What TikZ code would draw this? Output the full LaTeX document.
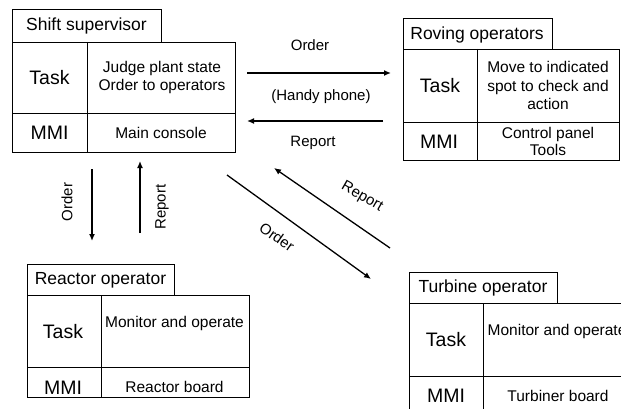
\documentclass[tikz,border=0pt]{standalone}
\usepackage{fontspec}
\setmainfont{Liberation Sans}
\usetikzlibrary{arrows.meta}
\begin{document}
\begin{tikzpicture}[x=1pt,y=-1pt,
  frame/.style={draw=black,line width=0.9pt},
  txt/.style={inner sep=0pt,align=center,font=\fontsize{15.5}{18.5}\selectfont},
  head/.style={inner sep=0pt,font=\fontsize{17.5}{20}\selectfont},
  big/.style={inner sep=0pt,font=\fontsize{19.5}{22}\selectfont},
  lbl/.style={inner sep=0pt,font=\fontsize{15}{18}\selectfont},
  flow/.style={line width=1.3pt,-{Latex[length=7pt,width=6pt]}}]
\useasboundingbox (0,0) rectangle (621,409);
\clip (0,0) rectangle (621,409);
\fill[white] (0,0) rectangle (621,409);

% Shift supervisor
\draw[frame] (12,9) rectangle (161,42);
\draw[frame] (12,42) rectangle (235,152);
\draw[frame] (87,42) -- (87,152);
\draw[frame] (12,113) -- (235,113);
\node[head] (ssh) at (86.5,26) {Shift supervisor};
\node[big] (sst) at (49.5,78) {Task};
\node[txt] (sstc) at (162,77.5) {Judge plant state\\Order to operators};
\node[big] (ssm) at (49.5,133) {MMI};
\node[txt] (ssmc) at (161,133) {Main console};

% Roving operators
\draw[frame] (403,18) rectangle (552,49);
\draw[frame] (403,49) rectangle (619,160);
\draw[frame] (477,49) -- (477,160);
\draw[frame] (403,122) -- (619,122);
\node[head] (rvh) at (477,34.5) {Roving operators};
\node[big] (rvt) at (440,86) {Task};
\node[txt] (rvtc) at (548,85.5) {Move to indicated\\spot to check and\\action};
\node[big] (rvm) at (439,142) {MMI};
\node[txt,font=\fontsize{15.5}{17}\selectfont] (rvmc) at (548,141.5) {Control panel\\Tools};

% Reactor operator
\draw[frame] (27,264) rectangle (174,295);
\draw[frame] (27,295) rectangle (249,397);
\draw[frame] (101,295) -- (101,397);
\draw[frame] (27,367) -- (249,367);
\node[head] (rch) at (100.5,280.5) {Reactor operator};
\node[big] (rct) at (63,332) {Task};
\node[txt] (rctc) at (174.5,323) {Monitor and operate};
\node[big] (rcm) at (63,388) {MMI};
\node[txt] (rcmc) at (174.5,387) {Reactor board};

% Turbine operator
\draw[frame] (409,272) rectangle (557,303);
\draw[frame] (409,303) rectangle (660,440);
\draw[frame] (483,303) -- (483,440);
\draw[frame] (409,376) -- (660,376);
\node[head] (tbh) at (483,288) {Turbine operator};
\node[big] (tbt) at (446,340) {Task};
\node[txt,anchor=west] (tbtc) at (487.5,331) {Monitor and operate};
\node[big] (tbm) at (446,396) {MMI};
\node[txt] (tbmc) at (558,396) {Turbiner board};

% connector end points
\coordinate (o1s) at (247,73);  \coordinate (o1e) at (391,73);
\coordinate (r1s) at (383,121); \coordinate (r1e) at (247,121);
\coordinate (o2s) at (92,169);  \coordinate (o2e) at (92,241);
\coordinate (r2s) at (140,233); \coordinate (r2e) at (140,161);
\coordinate (o3s) at (227,175); \coordinate (o3e) at (371,279);
\coordinate (r3s) at (390,248); \coordinate (r3e) at (274,168);

\draw[flow] (o1s) -- (o1e);
\draw[flow] (r1s) -- (r1e);
\draw[flow] (o2s) -- (o2e);
\draw[flow] (r2s) -- (r2e);
\draw[flow] (o3s) -- (o3e);
\draw[flow] (r3s) -- (r3e);

\node[lbl] (l1) at (310,45) {Order};
\node[lbl] (l2) at (321,97) {(Handy phone)};
\node[lbl] (l3) at (313,143) {Report};
\node[lbl,rotate=90] (l4) at (67,202) {Order};
\node[lbl,rotate=90] (l5) at (162,207) {Report};
\node[lbl,rotate=-35] (l6) at (277,237) {Order};
\node[lbl,rotate=-30] (l7) at (362,197) {Report};
\end{tikzpicture}
\end{document}
